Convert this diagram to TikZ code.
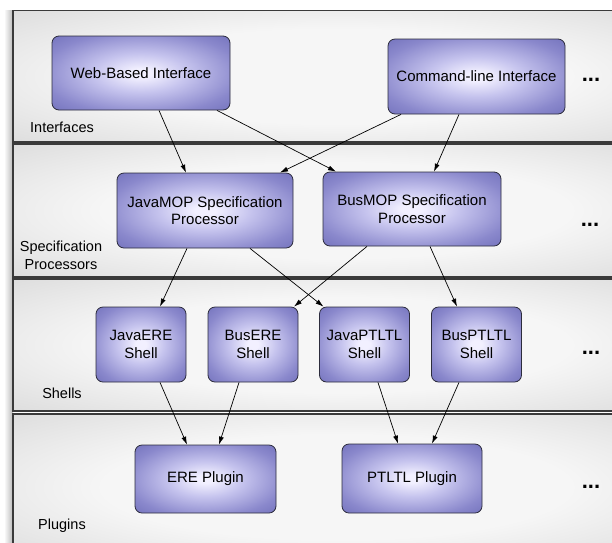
\documentclass[tikz,border=0pt]{standalone}
\usepackage{fontspec}
\setmainfont{Liberation Sans}
\usetikzlibrary{arrows.meta}

\definecolor{bandin}{HTML}{F6F6F6}
\definecolor{bandout}{HTML}{BEBEBE}
\definecolor{bandline}{HTML}{3A3A3A}
\definecolor{nodein}{HTML}{F2F0FF}
\definecolor{nodelight}{HTML}{C6C4EE}
\definecolor{nodemid}{HTML}{8A88CC}
\definecolor{nodeout}{HTML}{6464B2}
\definecolor{nodeedge}{HTML}{5050A2}
\definecolor{nodeline}{HTML}{2C2C3C}

\pgfdeclareradialshading{bandshade}{\pgfpoint{0bp}{0bp}}{%
  color(0bp)=(bandin); color(18bp)=(bandin); color(58bp)=(bandout); color(75bp)=(bandout)}
\pgfdeclareradialshading{nodeshade}{\pgfpoint{0bp}{0bp}}{%
  color(0bp)=(nodein); color(3bp)=(nodein); color(13bp)=(nodelight);
  color(28bp)=(nodemid); color(42bp)=(nodeout); color(55bp)=(nodeedge); color(75bp)=(nodeedge)}

\tikzset{
  band/.style={draw=bandline, line width=1.3pt, shading=bandshade},
  comp/.style={draw=nodeline, line width=0.8pt, rounded corners=7pt,
    shading=nodeshade, align=center, inner sep=2pt,
    font=\fontsize{15}{17.5}\selectfont},
  layerlabel/.style={align=center, font=\fontsize{14.5}{18}\selectfont},
  more/.style={font=\fontsize{22}{22}\selectfont\bfseries},
  link/.style={line width=0.7pt, -{Latex[length=8pt,width=5pt]}},
}

\begin{document}
\begin{tikzpicture}[x=1pt,y=-1pt]
\useasboundingbox (0,0) rectangle (612,542);
\clip (0,0) rectangle (612,542);
\fill[white] (0,0) rectangle (612,542);

% soft shadow along the left side of the stack
\shade[left color=white, right color=gray!55] (4,10) rectangle (13,560);

% layer bands
\path[band] (13,10.7) rectangle (660,142);
\path[band] (13,144) rectangle (660,277);
\path[band] (13,279) rectangle (660,411);
\path[band] (13,414) rectangle (660,560);

% layer captions
\node[layerlabel] (lint) at (62,127) {Interfaces};
\node[layerlabel] (lspec) at (61,255) {Specification\\Processors};
\node[layerlabel] (lshell) at (62,393) {Shells};
\node[layerlabel] (lplug) at (62,526) {Plugins};

% continuation marks
\node[more] (m1) at (591,80) {...};
\node[more] (m2) at (590,225) {...};
\node[more] (m3) at (591,353) {...};
\node[more] (m4) at (591,487) {...};

% interfaces
\node[comp, minimum width=178pt, minimum height=74pt] (web) at (141,73) {Web-Based Interface};
\node[comp, minimum width=177pt, minimum height=75pt] (cli) at (476.5,76.5) {Command-line Interface};

% specification processors
\node[comp, minimum width=176pt, minimum height=75pt] (jmop) at (205,210.5) {JavaMOP Specification\\Processor};
\node[comp, minimum width=178pt, minimum height=74pt] (bmop) at (412,209) {BusMOP Specification\\Processor};

% shells
\node[comp, minimum width=90pt, minimum height=75pt] (jere) at (141,344.5) {JavaERE\\Shell};
\node[comp, minimum width=90pt, minimum height=75pt] (bere) at (253,344.5) {BusERE\\Shell};
\node[comp, minimum width=90pt, minimum height=75pt] (jptl) at (364.5,344.5) {JavaPTLTL\\Shell};
\node[comp, minimum width=90pt, minimum height=75pt] (bptl) at (476.5,344.5) {BusPTLTL\\Shell};

% plugins
\node[comp, minimum width=141pt, minimum height=68pt] (ere) at (205.5,479) {ERE Plugin};
\node[comp, minimum width=140pt, minimum height=69pt] (ptl) at (412,478.5) {PTLTL Plugin};

% interfaces -> processors
\draw[link] ([xshift=18pt]web.south) -- ([xshift=-19pt]jmop.north);
\draw[link] ([xshift=76pt]web.south) -- ([xshift=-76pt]bmop.north);
\draw[link] ([xshift=-75.5pt]cli.south) -- ([xshift=75pt]jmop.north);
\draw[link] ([xshift=-17.5pt]cli.south) -- ([xshift=22pt]bmop.north);

% processors -> shells
\draw[link] ([xshift=-18pt]jmop.south) -- ([xshift=19pt]jere.north);
\draw[link] ([xshift=45pt]jmop.south) -- ([xshift=-41pt]jptl.north);
\draw[link] ([xshift=-45pt]bmop.south) -- ([xshift=41pt]bere.north);
\draw[link] ([xshift=18pt]bmop.south) -- ([xshift=-19.5pt]bptl.north);

% shells -> plugins
\draw[link] ([xshift=19pt]jere.south) -- ([xshift=-18.5pt]ere.north);
\draw[link] ([xshift=-14pt]bere.south) -- ([xshift=13.5pt]ere.north);
\draw[link] ([xshift=13.5pt]jptl.south) -- ([xshift=-14pt]ptl.north);
\draw[link] ([xshift=-17.5pt]bptl.south) -- ([xshift=20pt]ptl.north);
\end{tikzpicture}
\end{document}
